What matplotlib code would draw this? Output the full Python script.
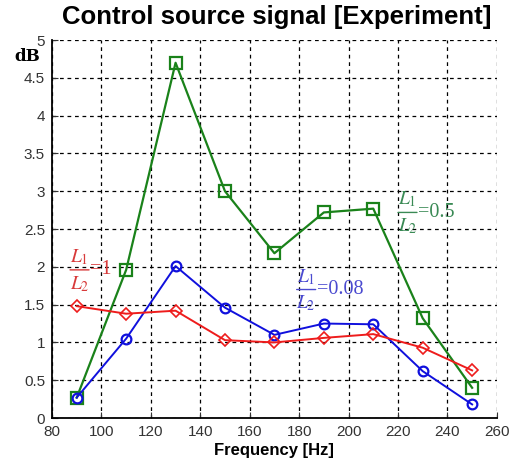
import numpy as np
import matplotlib
matplotlib.use("Agg")
import matplotlib.pyplot as plt

# data
freq = [90, 110, 130, 150, 170, 190, 210, 230, 250]
db_05 = [0.27, 1.96, 4.70, 3.00, 2.18, 2.72, 2.77, 1.32, 0.40]
db_008 = [0.27, 1.05, 2.01, 1.46, 1.10, 1.25, 1.24, 0.62, 0.18]
db_1 = [1.48, 1.38, 1.42, 1.03, 1.00, 1.06, 1.11, 0.93, 0.63]

plt.rcParams['font.family'] = ['Liberation Sans', 'DejaVu Sans']
plt.rcParams['mathtext.fontset'] = 'stix'

fig = plt.figure(figsize=(5.17, 4.62), dpi=100)
ax = fig.add_axes([0.1006, 0.0952, 0.8604, 0.818])

ax.plot(freq, db_05, color='#1a821a', lw=1.6, marker='s', ms=8, mfc='none', mew=1.6, zorder=3)
ax.plot(freq, db_008, color='#1010dd', lw=1.4, marker='o', ms=7, mfc='none', mew=1.6, zorder=3)
ax.plot(freq, db_1, color='#ee1c1c', lw=1.4, marker='D', ms=6, mfc='none', mew=1.2, zorder=3)


# L1/L2 = value label, built by hand so the fraction stays compact
def ratio_label(x, y, val, c, fs=14, w=19):
    kw = dict(xy=(x, y), textcoords='offset pixels', color=c, fontsize=fs, ha='center')
    ax.annotate(r'$L_1$', xytext=(w / 2, 3), va='bottom', **kw)
    ax.annotate(r'$L_2$', xytext=(w / 2, -4), va='top', **kw)
    ax.annotate('', xy=(x, y), xytext=(w, 0), textcoords='offset pixels',
                arrowprops=dict(arrowstyle='-', color=c, lw=1.0, shrinkA=0, shrinkB=0))
    ax.annotate('=' + val, xy=(x, y), xytext=(w + 1, 0), textcoords='offset pixels',
                color=c, fontsize=14.5, family='Liberation Serif', ha='left', va='center')


ratio_label(87.3, 1.96, '1', '#d83a3a')
ratio_label(220, 2.72, '0.5', '#3a8a55')
ratio_label(179, 1.70, '0.08', '#4a4ad0')

ax.set_xlim(80, 260)
ax.set_ylim(0, 5)
ax.set_xticks(np.arange(80, 261, 20))
ax.set_yticks(np.arange(0, 5.01, 0.5))
ax.set_yticklabels(['0', '0.5', '1', '1.5', '2', '2.5', '3', '3.5', '4', '4.5', '5'])
ax.grid(True, color='black', ls=(0, (3, 3)), lw=0.9)
ax.spines['top'].set_visible(False)
ax.spines['right'].set_visible(False)
ax.spines['left'].set_linewidth(1.3)
ax.spines['bottom'].set_linewidth(1.3)
ax.tick_params(labelsize=11, direction='in', length=4, colors='#333333', pad=5)

ax.set_xlabel('Frequency [Hz]', fontsize=12, fontweight='bold', labelpad=3)
fig.text(0.027, 0.877, 'dB', fontsize=12, fontweight='bold', family='DejaVu Serif', va='center')
fig.suptitle('Control source signal [Experiment]', fontsize=18.5, fontweight='bold', x=0.535, y=0.99)

fig.savefig('out.png', dpi=100)
